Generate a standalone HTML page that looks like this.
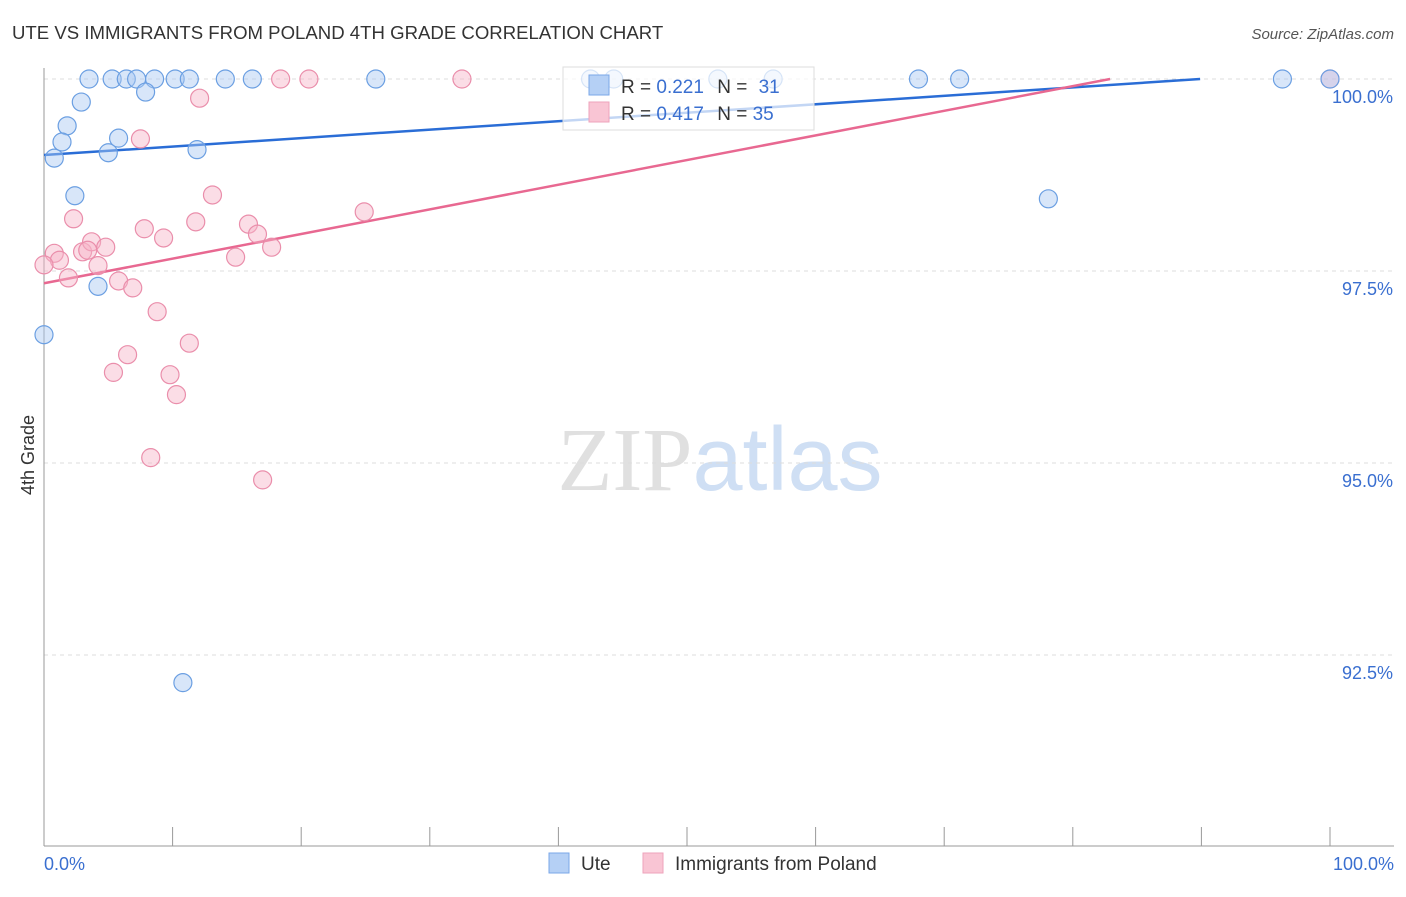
<!DOCTYPE html>
<html><head><meta charset="utf-8"><style>
body{margin:0;background:#fff;font-family:"Liberation Sans",sans-serif;}
svg text{font-family:"Liberation Sans",sans-serif;}
</style></head><body>
<svg id="chart" width="1406" height="892" xmlns="http://www.w3.org/2000/svg">
<text x="12" y="39" font-size="18.6" fill="#333">UTE VS IMMIGRANTS FROM POLAND 4TH GRADE CORRELATION CHART</text>
<text x="1394" y="39" font-size="15" fill="#555" text-anchor="end" font-style="italic">Source: ZipAtlas.com</text>
<text x="720" y="490" font-size="90" text-anchor="middle"><tspan fill="#e0e0e0" font-family="Liberation Serif">ZIP</tspan><tspan fill="#cfdff4">atlas</tspan></text>
<text transform="translate(34,455) rotate(-90)" font-size="18" fill="#333" text-anchor="middle">4th Grade</text>
<g id="grid"></g><g id="axes"></g><g id="lines"></g><g id="points"></g>
<g>
<rect x="563" y="67" width="251" height="63" fill="#fff" fill-opacity="0.72" stroke="#ddd"/>
<rect x="589" y="75" width="20" height="20" fill="#b5d0f5" stroke="#7aa7e8"/>
<rect x="589" y="102" width="20" height="20" fill="#f9c5d4" stroke="#eea3bb"/>
<text x="621" y="93" font-size="19" fill="#333">R = <tspan fill="#3a6fd0">0.221</tspan>  <tspan dx="8">N =</tspan> <tspan fill="#3a6fd0" dx="6">31</tspan></text>
<text x="621" y="120" font-size="19" fill="#333">R = <tspan fill="#3a6fd0">0.417</tspan>  <tspan dx="8">N =</tspan> <tspan fill="#3a6fd0">35</tspan></text>
</g>
<g>
<rect x="549" y="853" width="20" height="20" fill="#b5d0f5" stroke="#7aa7e8"/>
<text x="581" y="870" font-size="19" fill="#333">Ute</text>
<rect x="643" y="853" width="20" height="20" fill="#f9c5d4" stroke="#eea3bb"/>
<text x="675" y="870" font-size="19" fill="#333">Immigrants from Poland</text>
</g>
</svg>
<script>
const yTicks=[100,97.5,95,92.5];
const yTickLabels=["100.0%","97.5%","95.0%","92.5%"];
const xTicks=[0,10,20,30,40,50,60,70,80,90,100];
const blueX=[3.5,5.3,6.4,7.2,8.6,10.2,11.3,14.1,16.2,25.8,42.5,44.3,52.4,56.7,68.0,71.2,96.3,100,2.9,7.9,1.8,1.4,0.8,5.0,5.8,11.9,2.4,78.1,4.2,0,10.8];
const blueY=[100,100,100,100,100,100,100,100,100,100,100,100,100,100,100,100,100,100,99.70,99.83,99.39,99.18,98.97,99.04,99.23,99.08,98.48,98.44,97.30,96.67,92.14];
const pinkX=[18.4,20.6,32.5,100,12.1,7.5,13.1,2.3,11.8,24.9,15.9,16.6,7.8,9.3,0.8,1.2,3.0,3.7,4.8,3.4,4.2,1.9,5.8,6.9,17.7,14.9,8.8,11.3,6.5,5.4,9.8,10.3,8.3,17.0,0];
const pinkY=[100,100,100,100,99.75,99.22,98.49,98.18,98.14,98.27,98.11,97.98,98.05,97.93,97.73,97.64,97.75,97.88,97.81,97.77,97.57,97.41,97.37,97.28,97.81,97.68,96.97,96.56,96.41,96.18,96.15,95.89,95.07,94.78,97.58];
const blueTrend=[0,99.01,89.9,100];
const pinkTrend=[0,97.34,82.9,100];
const NS="http://www.w3.org/2000/svg";
const sx=v=>44+v*12.86, sy=v=>79+(100-v)*76.8;
function mk(p,t,a){const e=document.createElementNS(NS,t);for(const k in a)e.setAttribute(k,a[k]);document.getElementById(p).appendChild(e);return e;}
yTicks.forEach((t,i)=>{
 const l=mk('grid','line',{x1:44,x2:1394,y1:sy(t),y2:sy(t),stroke:'#ddd','stroke-dasharray':'4,4'});
 
 
 const tx=mk('grid','text',{x:1393,y:sy(t)+24,'font-size':18,fill:'#3a6fd0','text-anchor':'end'});
 tx.textContent=yTickLabels[i];
 
 
});
const ax=mk('axes','line',{x1:44,x2:44,y1:68,y2:846,stroke:'#999'});


const bx=mk('axes','line',{x1:44,x2:1394,y1:846,y2:846,stroke:'#999'});


xTicks.forEach(t=>{
 const l=mk('axes','line',{x1:sx(t),x2:sx(t),y1:827,y2:846,stroke:'#999'});
 
 
});
const xl0=mk('axes','text',{x:44,y:870,'font-size':18,fill:'#3a6fd0'});xl0.textContent='0.0%';


const xl1=mk('axes','text',{x:1394,y:870,'font-size':18,fill:'#3a6fd0','text-anchor':'end'});xl1.textContent='100.0%';


function pts(X,Y,fill,stroke,name){X.forEach((x,i)=>{
 const c=mk('points','circle',{cx:sx(x),cy:sy(Y[i]),r:9,fill:fill,'fill-opacity':0.45,stroke:stroke,'stroke-width':1.2});
 
 
});}
pts(pinkX,pinkY,'#f7b3c8','#ea8eab','poland-point');
pts(blueX,blueY,'#a9c8f2','#6b9fe2','ute-point');
const bl=mk('lines','line',{x1:sx(blueTrend[0]),y1:sy(blueTrend[1]),x2:sx(blueTrend[2]),y2:sy(blueTrend[3]),stroke:'#2a6dd6','stroke-width':2.5});


const pl=mk('lines','line',{x1:sx(pinkTrend[0]),y1:sy(pinkTrend[1]),x2:sx(pinkTrend[2]),y2:sy(pinkTrend[3]),stroke:'#e86891','stroke-width':2.5});


</script>
</body></html>
